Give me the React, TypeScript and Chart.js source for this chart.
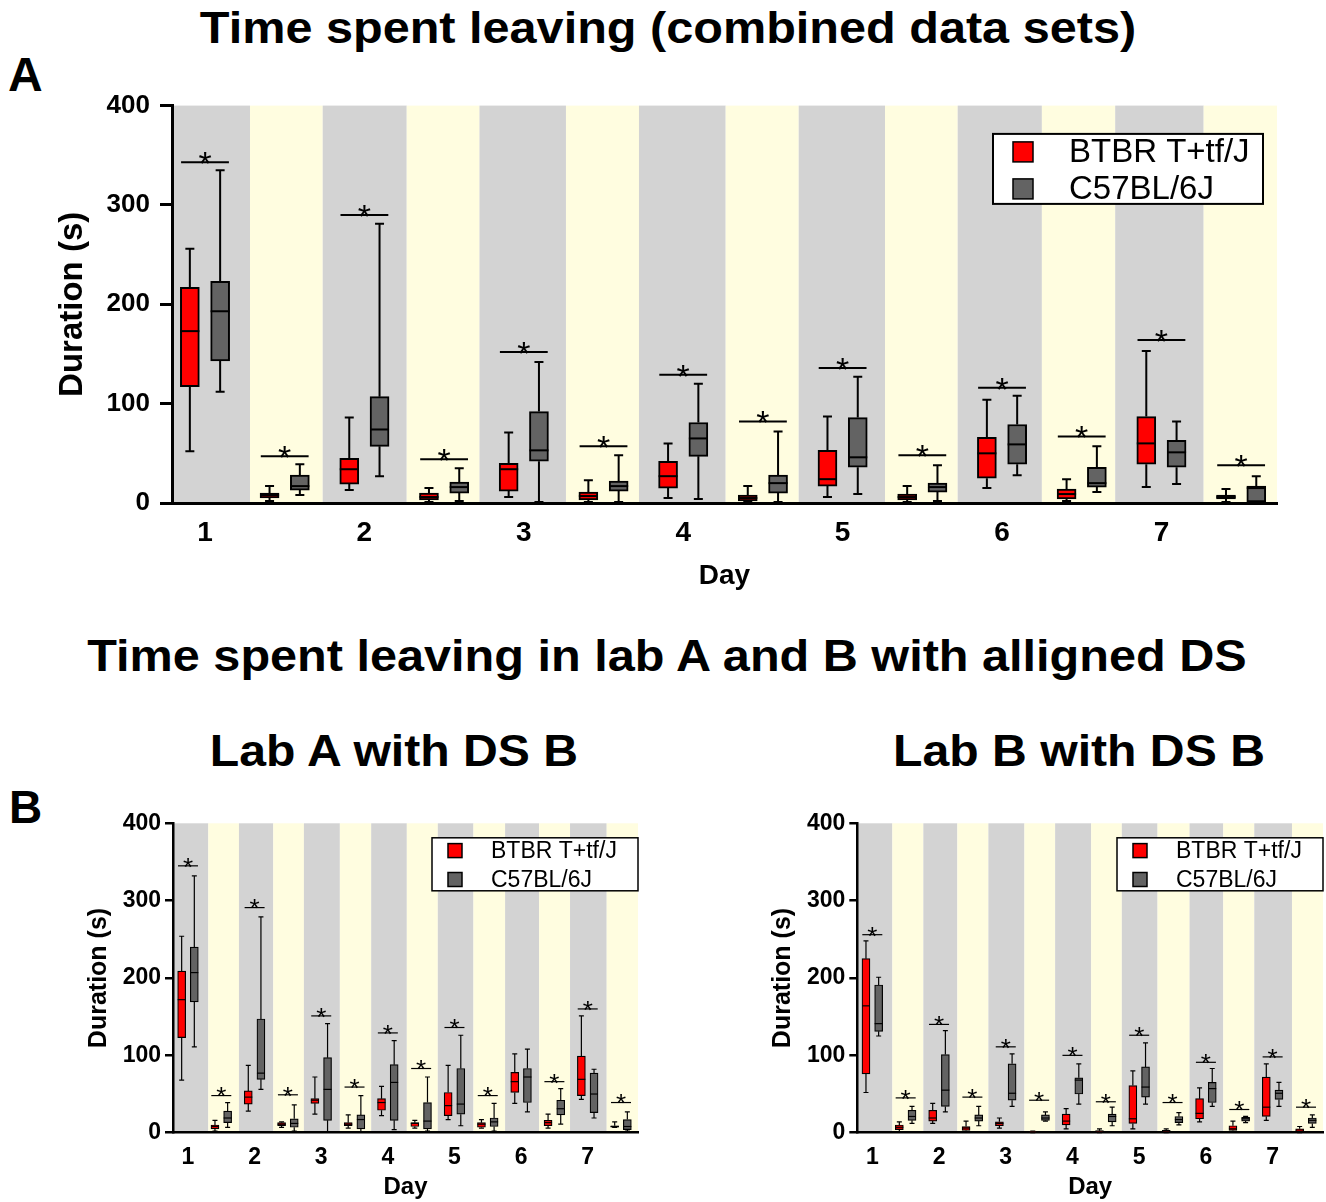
import React, { useEffect, useRef } from "react";
import { Chart, registerables } from "chart.js";

Chart.register(...registerables);

const FONT = '"Liberation Sans", Arial, Helvetica, sans-serif';

const seriesNames = ["BTBR T+tf/J", "C57BL/6J"];
const seriesColors = ["#ff0000", "#636363"];
const phaseColors = ["#d3d3d3", "#fffde0"];
const dayLabels = ["1", "2", "3", "4", "5", "6", "7"];
const dayTickIndex = [0, 2, 4, 6, 8, 10, 12];

// Each entry: [min, q1, median, q3, max]; 14 phases = day 1 dark, day 1 light, ... day 7 light
const combinedBtbr = [
  [52, 117, 173, 217, 256], [2, 5, 8, 10, 17], [13, 19, 34, 45, 86], [1, 3, 6, 10, 15],
  [6, 12, 34, 40, 71], [1, 3, 7, 11, 23], [5, 15, 27, 42, 60], [1, 2, 5, 8, 17],
  [6, 17, 24, 53, 87], [1, 3, 6, 9, 17], [15, 25, 50, 66, 104], [2, 4, 9, 14, 24],
  [16, 39, 60, 87, 153], [1, 4, 6, 8, 14],
];
const combinedC57 = [
  [112, 143, 193, 223, 335], [8, 13, 17, 28, 39], [27, 57, 74, 107, 281], [2, 10, 16, 21, 35],
  [1, 42, 53, 92, 142], [1, 12, 17, 22, 48], [4, 47, 65, 81, 120], [1, 10, 20, 28, 72],
  [9, 36, 46, 86, 127], [2, 11, 16, 20, 38], [28, 39, 59, 79, 108], [11, 16, 20, 36, 57],
  [19, 36, 51, 63, 82], [1, 1, 15, 17, 27],
];
const combinedSig = [343, 47, 290, 44, 152, 57, 129, 82, 136, 48, 116, 67, 164, 38];
const combinedPhaseEdges = [-0.414, 0.565, 1.477, 2.531, 3.444, 4.529, 5.445, 6.533, 7.449, 8.532, 9.444, 10.5, 11.42, 12.53, 13.45];

const labABtbr = [
  [68, 123, 172, 209, 254], [2, 5, 8, 10, 16], [28, 37, 46, 54, 87], [7, 9, 11, 13, 14],
  [24, 38, 42, 44, 72], [6, 9, 11, 13, 23], [22, 29, 39, 44, 60], [6, 8, 12, 13, 16],
  [17, 22, 35, 52, 87], [6, 7, 11, 13, 17], [38, 52, 66, 78, 102], [6, 9, 13, 16, 24],
  [43, 48, 69, 99, 151], [7, 7, 8, 9, 14],
];
const labAC57 = [
  [111, 169, 207, 240, 332], [7, 13, 19, 28, 39], [56, 69, 77, 147, 279], [2, 7, 12, 18, 36],
  [1, 16, 56, 97, 141], [1, 5, 17, 23, 48], [4, 16, 65, 88, 119], [2, 5, 15, 39, 72],
  [9, 24, 37, 83, 126], [2, 8, 14, 19, 38], [27, 39, 72, 83, 108], [11, 23, 31, 42, 57],
  [19, 26, 50, 77, 82], [2, 4, 8, 17, 27],
];
const labASig = [345, 48, 291, 49, 151, 59, 129, 83, 136, 48, null, 66, 160, 39];
const labAPhaseEdges = [-0.45, 0.61, 1.53, 2.56, 3.48, 4.56, 5.5, 6.57, 7.5, 8.57, 9.52, 10.54, 11.47, 12.57, 13.51];

const labBBtbr = [
  [52, 76, 164, 225, 248], [1, 4, 7, 10, 14], [12, 15, 19, 29, 38], [1, 3, 6, 8, 15],
  [6, 9, 12, 14, 19], [0, 0.5, 1, 1.5, 2], [5, 10, 15, 24, 31], [0, 1, 2, 2.5, 5],
  [5, 12, 18, 61, 80], [0, 0.3, 2, 3, 5], [14, 18, 25, 44, 58], [1, 3, 5, 9, 15],
  [16, 21, 33, 72, 89], [0, 1, 2, 5, 8],
];
const labBC57 = [
  [125, 131, 141, 191, 201], [12, 16, 21, 29, 34], [27, 34, 55, 101, 132], [9, 15, 19, 23, 34],
  [34, 42, 51, 89, 102], [15, 16, 19, 23, 27], [37, 50, 68, 71, 89], [9, 14, 21, 24, 33],
  [37, 46, 59, 85, 116], [10, 13, 17, 21, 26], [34, 39, 57, 65, 83], [13, 15, 18, 20, 21],
  [34, 43, 51, 55, 65], [7, 12, 16, 19, 23],
];
const labBSig = [256, 45, 140, 46, 111, 42, 100, 40, 126, 39, 91, 30, 98, 33];
const labBPhaseEdges = [-0.45, 0.6, 1.53, 2.55, 3.48, 4.56, 5.48, 6.56, 7.48, 8.55, 9.51, 10.52, 11.45, 12.58, 13.51];

type LegendCfg = {
  rightOff: number; topOff: number; w: number; h: number;
  sqX: number; sq: number; rows: number[]; textX: number; font: number; border: number;
};

type PanelCfg = {
  left: number; top: number; width: number; height: number;
  padL: number; padR: number; padT: number; padB: number;
  yAxisW: number; xAxisH: number;
  yTickFont: number; yTickPad: number; yTickLen: number;
  xTickFont: number; xTickPad: number;
  yTitleFont: number; xTitleFont: number;
  axisW: number; lineW: number; boxPx: number; capPx: number;
  starFont: number; sigHalf: number;
  btbr: number[][]; c57: number[][]; sig: (number | null)[]; edges: number[];
  legend: LegendCfg;
};

const panelA: PanelCfg = {
  left: 0, top: 80, width: 1326, height: 530,
  padL: 53, padR: 49, padT: 21.7, padB: 17,
  yAxisW: 119, xAxisH: 90,
  yTickFont: 26, yTickPad: 10, yTickLen: 12,
  xTickFont: 28, xTickPad: 13,
  yTitleFont: 33, xTitleFont: 28,
  axisW: 3, lineW: 2, boxPx: 19, capPx: 4.5,
  starFont: 34, sigHalf: 0.3,
  btbr: combinedBtbr, c57: combinedC57, sig: combinedSig, edges: combinedPhaseEdges,
  legend: { rightOff: 14, topOff: 28.3, w: 270, h: 70, sqX: 20, sq: 20, rows: [18, 55], textX: 76, font: 33, border: 2 },
};

const panelB1: PanelCfg = {
  left: 0, top: 800, width: 670, height: 402,
  padL: 84, padR: 32, padT: 23.3, padB: 0,
  yAxisW: 89, xAxisH: 69.3,
  yTickFont: 23, yTickPad: 4, yTickLen: 8,
  xTickFont: 23, xTickPad: 10.8,
  yTitleFont: 25, xTitleFont: 24,
  axisW: 2.5, lineW: 1.2, boxPx: 8, capPx: 2.5,
  starFont: 26, sigHalf: 0.3,
  btbr: labABtbr, c57: labAC57, sig: labASig, edges: labAPhaseEdges,
  legend: { rightOff: 0, topOff: 14.5, w: 206, h: 53, sqX: 16, sq: 14, rows: [12.8, 41.7], textX: 59, font: 23, border: 1.5 },
};

const panelB2: PanelCfg = {
  ...panelB1,
  left: 670, width: 656,
  padL: 98, padR: 3, yAxisW: 89.3,
  btbr: labBBtbr, c57: labBC57, sig: labBSig, edges: labBPhaseEdges,
};

const offsets = [-0.19, 0.19];

function BoxPanel({ cfg }: { cfg: PanelCfg }) {
  const ref = useRef<HTMLCanvasElement>(null);
  useEffect(() => {
    const canvas = ref.current;
    if (!canvas) return;
    const series = [cfg.btbr, cfg.c57];

    const plugin = {
      id: "boxExtras",
      beforeDraw(chart: any) {
        const { ctx, chartArea: ca } = chart;
        const xs = chart.scales.x;
        ctx.save();
        for (let k = 0; k < cfg.edges.length - 1; k++) {
          const x0 = xs.getPixelForValue(cfg.edges[k]);
          const x1 = xs.getPixelForValue(cfg.edges[k + 1]);
          ctx.fillStyle = phaseColors[k % 2];
          ctx.fillRect(x0, ca.top, x1 - x0, ca.bottom - ca.top);
        }
        ctx.restore();
      },
      beforeDatasetsDraw(chart: any) {
        const ctx = chart.ctx;
        const xs = chart.scales.x;
        const ys = chart.scales.y;
        ctx.save();
        ctx.strokeStyle = "#000";
        ctx.lineWidth = cfg.lineW;
        series.forEach((arr, si) =>
          arr.forEach((d, i) => {
            const px = xs.getPixelForValue(i + offsets[si]);
            const [mn, q1, , q3, mx] = d;
            const yMax = ys.getPixelForValue(mx);
            const yMin = ys.getPixelForValue(mn);
            ctx.beginPath();
            ctx.moveTo(px, yMax);
            ctx.lineTo(px, ys.getPixelForValue(q3));
            ctx.moveTo(px, ys.getPixelForValue(q1));
            ctx.lineTo(px, yMin);
            ctx.moveTo(px - cfg.capPx, yMax);
            ctx.lineTo(px + cfg.capPx, yMax);
            ctx.moveTo(px - cfg.capPx, yMin);
            ctx.lineTo(px + cfg.capPx, yMin);
            ctx.stroke();
          })
        );
        ctx.restore();
      },
      afterDatasetsDraw(chart: any) {
        const { ctx, chartArea: ca } = chart;
        const xs = chart.scales.x;
        const ys = chart.scales.y;
        ctx.save();
        ctx.strokeStyle = "#000";
        ctx.lineWidth = cfg.lineW;
        // medians
        series.forEach((arr, si) =>
          arr.forEach((d, i) => {
            const px = xs.getPixelForValue(i + offsets[si]);
            const ym = ys.getPixelForValue(d[2]);
            ctx.beginPath();
            ctx.moveTo(px - cfg.boxPx / 2, ym);
            ctx.lineTo(px + cfg.boxPx / 2, ym);
            ctx.stroke();
          })
        );
        // significance bars and stars
        ctx.fillStyle = "#000";
        ctx.font = `${cfg.starFont}px ${FONT}`;
        ctx.textAlign = "center";
        ctx.textBaseline = "alphabetic";
        cfg.sig.forEach((v, i) => {
          if (v === null || v === undefined) return;
          const yl = ys.getPixelForValue(v);
          const x0 = xs.getPixelForValue(i - cfg.sigHalf);
          const x1 = xs.getPixelForValue(i + cfg.sigHalf);
          ctx.beginPath();
          ctx.moveTo(x0, yl);
          ctx.lineTo(x1, yl);
          ctx.stroke();
          ctx.fillText("*", (x0 + x1) / 2, yl + 0.38 * cfg.starFont);
        });
        // legend
        const L = cfg.legend;
        const bx = ca.right - L.rightOff - L.w;
        const by = ca.top + L.topOff;
        ctx.fillStyle = "#fff";
        ctx.fillRect(bx, by, L.w, L.h);
        ctx.lineWidth = L.border;
        ctx.strokeStyle = "#000";
        ctx.strokeRect(bx, by, L.w, L.h);
        ctx.font = `${L.font}px ${FONT}`;
        ctx.textAlign = "left";
        ctx.textBaseline = "middle";
        seriesNames.forEach((name, si) => {
          const cy = by + L.rows[si];
          ctx.fillStyle = seriesColors[si];
          ctx.fillRect(bx + L.sqX, cy - L.sq / 2, L.sq, L.sq);
          ctx.lineWidth = 1.5;
          ctx.strokeRect(bx + L.sqX, cy - L.sq / 2, L.sq, L.sq);
          ctx.fillStyle = "#000";
          ctx.fillText(name, bx + L.textX, cy + 1);
        });
        ctx.restore();
      },
    };

    const chart = new Chart(canvas, {
      type: "bar",
      data: {
        datasets: series.map((arr, si) => ({
          label: seriesNames[si],
          data: arr.map((d, i) => ({ x: i + offsets[si], y: [d[1], d[3]] })),
          backgroundColor: seriesColors[si],
          borderColor: "#000",
          borderWidth: cfg.lineW,
          borderSkipped: false,
          barThickness: cfg.boxPx,
          maxBarThickness: cfg.boxPx,
          grouped: false,
        })) as any,
      },
      options: {
        responsive: false,
        animation: false,
        events: [],
        layout: { padding: { left: cfg.padL, right: cfg.padR, top: cfg.padT, bottom: cfg.padB } },
        plugins: {
          legend: { display: false },
          tooltip: { enabled: false },
          title: { display: false },
        },
        scales: {
          x: {
            type: "linear",
            min: cfg.edges[0],
            max: cfg.edges[cfg.edges.length - 1],
            offset: false,
            afterBuildTicks: (sc: any) => {
              sc.ticks = dayTickIndex.map((v) => ({ value: v }));
            },
            afterFit: (sc: any) => {
              sc.height = cfg.xAxisH;
            },
            grid: { display: true, drawOnChartArea: false, drawTicks: false, tickLength: 0 },
            border: { display: true, color: "#000", width: cfg.axisW },
            ticks: {
              callback: (_v: any, idx: number) => dayLabels[idx],
              font: { family: FONT, size: cfg.xTickFont, weight: "bold" },
              color: "#000",
              padding: cfg.xTickPad,
              maxRotation: 0,
              autoSkip: false,
            },
            title: {
              display: true,
              text: "Day",
              font: { family: FONT, size: cfg.xTitleFont, weight: "bold" },
              color: "#000",
              padding: 0,
            },
          },
          y: {
            min: 0,
            max: 400,
            afterFit: (sc: any) => {
              sc.width = cfg.yAxisW;
            },
            ticks: {
              stepSize: 100,
              font: { family: FONT, size: cfg.yTickFont, weight: "bold" },
              color: "#000",
              padding: cfg.yTickPad,
            },
            grid: {
              display: true,
              drawOnChartArea: false,
              drawTicks: true,
              tickLength: cfg.yTickLen,
              lineWidth: cfg.axisW,
              tickWidth: cfg.axisW,
              color: "#000",
              tickColor: "#000",
            },
            border: { display: true, color: "#000", width: cfg.axisW },
            title: {
              display: true,
              text: "Duration (s)",
              font: { family: FONT, size: cfg.yTitleFont, weight: "bold" },
              color: "#000",
              padding: 0,
            },
          },
        },
      } as any,
      plugins: [plugin],
    });
    return () => chart.destroy();
  }, [cfg]);

  return (
    <canvas
      ref={ref}
      width={cfg.width}
      height={cfg.height}
      style={{ position: "absolute", left: cfg.left, top: cfg.top, width: cfg.width, height: cfg.height }}
    />
  );
}

function Heading({ text, cx, cy, size, sx }: { text: string; cx: number; cy: number; size: number; sx: number }) {
  return (
    <div
      style={{
        position: "absolute",
        left: cx - 700,
        width: 1400,
        top: cy - 0.49 * size,
        fontSize: size,
        lineHeight: `${size}px`,
        fontWeight: "bold",
        textAlign: "center",
        whiteSpace: "nowrap",
        transform: `scaleX(${sx})`,
        transformOrigin: "50% 50%",
      }}
    >
      {text}
    </div>
  );
}

function PanelLetter({ text, x, cy, size }: { text: string; x: number; cy: number; size: number }) {
  return (
    <div
      style={{
        position: "absolute",
        left: x,
        top: cy - 0.49 * size,
        fontSize: size,
        lineHeight: `${size}px`,
        fontWeight: "bold",
      }}
    >
      {text}
    </div>
  );
}

export default function App() {
  return (
    <div
      style={{
        position: "absolute",
        left: 0,
        top: 0,
        width: 1326,
        height: 1202,
        overflow: "hidden",
        background: "#fff",
        color: "#000",
        fontFamily: FONT,
      }}
    >
      <Heading text="Time spent leaving (combined data sets)" cx={668} cy={27} size={45} sx={1.08} />
      <PanelLetter text="A" x={8} cy={75} size={48} />
      <BoxPanel cfg={panelA} />
      <Heading text="Time spent leaving in lab A and B with alligned DS" cx={667} cy={655} size={45} sx={1.08} />
      <PanelLetter text="B" x={9} cy={807} size={46} />
      <Heading text="Lab A with DS B" cx={394} cy={750} size={45} sx={1.07} />
      <Heading text="Lab B with DS B" cx={1079} cy={750} size={45} sx={1.07} />
      <BoxPanel cfg={panelB1} />
      <BoxPanel cfg={panelB2} />
    </div>
  );
}
